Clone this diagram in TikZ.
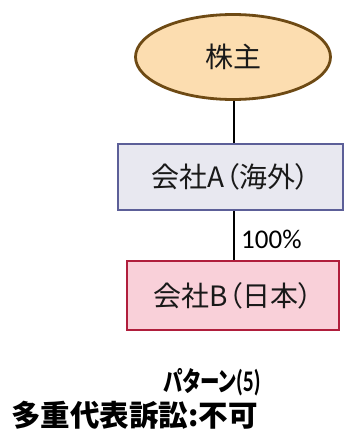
\documentclass[tikz,border=0pt]{standalone}
\usepackage{fontspec}
\setmainfont{Carlito}
\newfontfamily\jp[RawFeature=+palt]{Noto Sans CJK JP}
\newfontfamily\jpf{Noto Sans CJK JP}
\usetikzlibrary{shapes.geometric}
\definecolor{ellfill}{HTML}{FCDDB0}
\definecolor{elldraw}{HTML}{6E4A14}
\definecolor{afill}{HTML}{E8E8F0}
\definecolor{adraw}{HTML}{5C5F98}
\definecolor{bfill}{HTML}{F9D0D9}
\definecolor{bdraw}{HTML}{B01E3C}
\tikzset{
  conn/.style={line width=2pt,black},
  boxtext/.style={font=\jp\fontsize{28}{30}\selectfont,text=black!90},
}
\begin{document}
\begin{tikzpicture}[x=1pt,y=-1pt]
\useasboundingbox (0,0) rectangle (345,433);
\node[ellipse,draw=elldraw,fill=ellfill,line width=2.8pt,minimum width=195pt,minimum height=85pt,inner sep=0pt,boxtext] (sh) at (233,57) {株主};
\node[draw=adraw,fill=afill,line width=2.5pt,minimum width=225pt,minimum height=66pt,inner sep=0pt,boxtext] (a) at (230.5,177) {会社A（海外）};
\node[draw=bdraw,fill=bfill,line width=2.5pt,minimum width=212pt,minimum height=69pt,inner sep=0pt,boxtext] (b) at (233,295.5) {会社B（日本）};
\draw[conn] (sh.south -| 234,0) -- (a.north -| 234,0);
\draw[conn] (a.south -| 234,0) -- (b.north -| 234,0);
\node[anchor=west,font=\fontsize{27}{30}\selectfont,inner sep=0pt] (pct) at (241,239) {100\%};
\node[font=\jp\bfseries\fontsize{27}{30}\selectfont,inner sep=0pt] (t1) at (212,382) {\scalebox{0.72}[1]{パターン\textnormal{\bfseries\fontsize{30}{30}\selectfont(5)}}};
\node[anchor=west,font=\jpf\bfseries\fontsize{29.5}{32}\selectfont,inner sep=0pt] (t2) at (11,415) {多重代表訴訟:不可};
\end{tikzpicture}
\end{document}
